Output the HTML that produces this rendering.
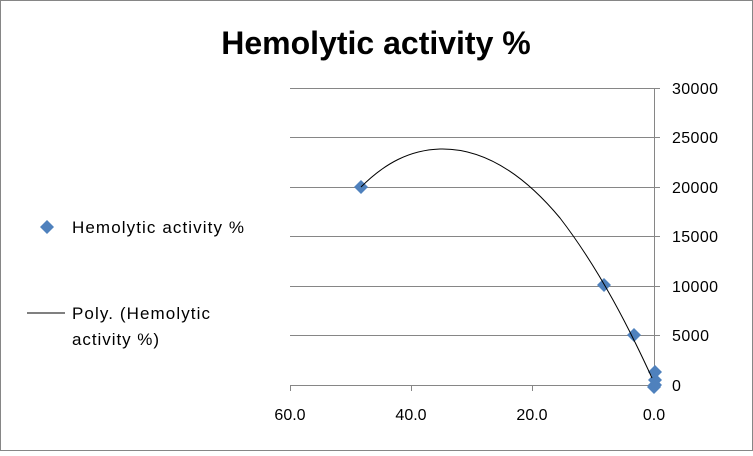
<!DOCTYPE html>
<html><head><style>
body{margin:0;background:#fff;}
svg text{font-family:"Liberation Sans",sans-serif;}
</style></head><body>
<svg width="753" height="451" viewBox="0 0 753 451" xmlns="http://www.w3.org/2000/svg">
<rect x="0.5" y="0.5" width="752" height="450" fill="#fff" stroke="#868686"/>
<text x="376" y="54" text-anchor="middle" font-size="32" font-weight="bold">Hemolytic activity %</text>
<g stroke="#868686" stroke-width="1">
<line x1="290" y1="88.5" x2="654" y2="88.5"/>
<line x1="290" y1="137.5" x2="654" y2="137.5"/>
<line x1="290" y1="187.5" x2="654" y2="187.5"/>
<line x1="290" y1="236.5" x2="654" y2="236.5"/>
<line x1="290" y1="286.5" x2="654" y2="286.5"/>
<line x1="290" y1="335.5" x2="654" y2="335.5"/>
<line x1="290" y1="385.5" x2="660" y2="385.5"/>
<line x1="654.5" y1="88" x2="654.5" y2="391"/>
<line x1="654" y1="88.5" x2="660" y2="88.5"/>
<line x1="654" y1="137.5" x2="660" y2="137.5"/>
<line x1="654" y1="187.5" x2="660" y2="187.5"/>
<line x1="654" y1="236.5" x2="660" y2="236.5"/>
<line x1="654" y1="286.5" x2="660" y2="286.5"/>
<line x1="654" y1="335.5" x2="660" y2="335.5"/>
<line x1="290.5" y1="385" x2="290.5" y2="391"/>
<line x1="411.5" y1="385" x2="411.5" y2="391"/>
<line x1="532.5" y1="385" x2="532.5" y2="391"/>
</g>
<g font-size="16" fill="#000">
<text x="672" y="94" textLength="46">30000</text>
<text x="672" y="143" textLength="46">25000</text>
<text x="672" y="193" textLength="46">20000</text>
<text x="672" y="242" textLength="46">15000</text>
<text x="672" y="292" textLength="46">10000</text>
<text x="672" y="341" textLength="37">5000</text>
<text x="672" y="391">0</text>
<text x="290" y="420" text-anchor="middle">60.0</text>
<text x="411" y="420" text-anchor="middle">40.0</text>
<text x="532" y="420" text-anchor="middle">20.0</text>
<text x="654" y="420" text-anchor="middle">0.0</text>
<text x="72" y="233" font-size="17" textLength="172">Hemolytic activity %</text>
<text x="72" y="319" font-size="17" textLength="138">Poly. (Hemolytic</text>
<text x="72" y="345" font-size="17" textLength="87">activity %)</text>
</g>
<line x1="27" y1="313" x2="65" y2="313" stroke="#000" stroke-width="1"/>
<polygon points="47,220 54,227 47,234 40,227" fill="#4f81bd"/>
<g fill="#4f81bd">
<polygon points="361,180 368,187 361,194 354,187"/>
<polygon points="604,278 611,285 604,292 597,285"/>
<polygon points="634,328 641,335 634,342 627,335"/>
<polygon points="655,365 662,372 655,379 648,372"/>
<polygon points="655,373 662,380 655,387 648,380"/>
<polygon points="655,378 662,385 655,392 648,385"/>
<polygon points="654,380 661,387 654,394 647,387"/>
</g>
<path fill="none" stroke="#000" stroke-width="1" d="M361,187 C385,163 410,150 440,149 C480,148 520,170 560,218 C600,270 630,330 652,378"/>
</svg>
</body></html>
